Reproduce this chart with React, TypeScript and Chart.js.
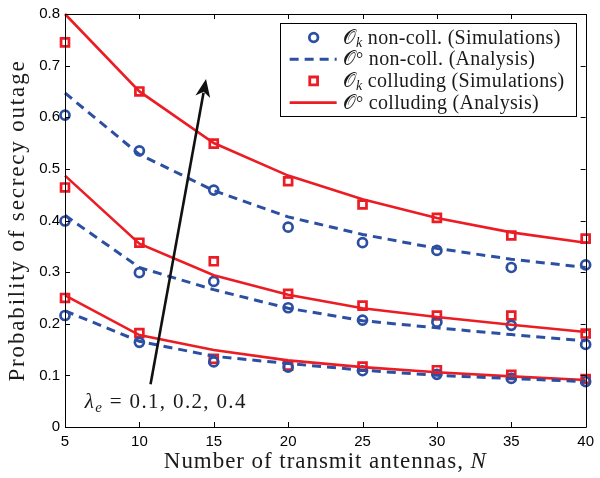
import React, { useEffect, useRef } from "react";
import { Chart, registerables } from "chart.js";

Chart.register(...registerables);

// Number of transmit antennas
const N = [5, 10, 15, 20, 25, 30, 35, 40];

// lambda_e = 0.1
const simNonColl01 = [0.216, 0.164, 0.126, 0.116, 0.109, 0.102, 0.094, 0.088];
const anaNonColl01 = [0.225, 0.166, 0.137, 0.123, 0.110, 0.100, 0.094, 0.088];
const simColl01 = [0.250, 0.182, 0.132, 0.119, 0.117, 0.110, 0.101, 0.093];
const anaColl01 = [0.255, 0.178, 0.149, 0.129, 0.116, 0.106, 0.098, 0.091];

// lambda_e = 0.2
const simNonColl02 = [0.399, 0.299, 0.282, 0.231, 0.207, 0.203, 0.197, 0.160];
const anaNonColl02 = [0.410, 0.309, 0.266, 0.230, 0.206, 0.192, 0.179, 0.167];
const simColl02 = [0.464, 0.357, 0.321, 0.258, 0.235, 0.216, 0.216, 0.181];
const anaColl02 = [0.487, 0.355, 0.294, 0.256, 0.230, 0.213, 0.198, 0.184];

// lambda_e = 0.4
const simNonColl04 = [0.604, 0.535, 0.459, 0.387, 0.357, 0.342, 0.309, 0.314];
const anaNonColl04 = [0.647, 0.528, 0.458, 0.407, 0.373, 0.346, 0.325, 0.309];
const simColl04 = [0.745, 0.650, 0.549, 0.476, 0.431, 0.405, 0.371, 0.365];
const anaColl04 = [0.800, 0.650, 0.550, 0.487, 0.441, 0.405, 0.377, 0.357];

const X_TICKS = [5, 10, 15, 20, 25, 30, 35, 40];
const Y_TICKS = [0, 0.1, 0.2, 0.3, 0.4, 0.5, 0.6, 0.7, 0.8];

const LEGEND_SUFFIX = [
  " non-coll. (Simulations)",
  " non-coll. (Analysis)",
  " colluding (Simulations)",
  " colluding (Analysis)",
];
const X_TITLE = "Number of transmit antennas, ";
const X_TITLE_VAR = "N";
const Y_TITLE = "Probability of secrecy outage";
const LAMBDA_TEXT = " = 0.1, 0.2, 0.4";

// annotation anchor points in data units
const ARROW_FROM = { x: 10.75, y: 0.083 };
const ARROW_TO = { x: 14.48, y: 0.674 };
const LAMBDA_AT = { x: 6.33, y: 0.037 };

const RED = "#EC1C24";
const BLUE = "#2C4FA2";
const TEXT = "#1a1a1a";
const SERIF = "'Liberation Serif', 'DejaVu Serif', serif";
const SANS = "'Liberation Sans', Arial, sans-serif";

type Seg = { t: string; font: string; dy?: number };

function segsWidth(ctx: CanvasRenderingContext2D, segs: Seg[]) {
  let w = 0;
  let n = 0;
  (ctx as any).letterSpacing = "0px";
  for (const s of segs) {
    ctx.font = s.font;
    w += ctx.measureText(s.t).width;
    n += [...s.t].length;
  }
  return { w, n };
}
function drawSegs(ctx: CanvasRenderingContext2D, segs: Seg[], x: number, y: number, spacing: number) {
  let cx = x;
  for (const s of segs) {
    ctx.font = s.font;
    (ctx as any).letterSpacing = "0px";
    const w = ctx.measureText(s.t).width;
    (ctx as any).letterSpacing = `${spacing}px`;
    ctx.fillText(s.t, cx, y + (s.dy || 0));
    cx += w + spacing * [...s.t].length;
  }
  (ctx as any).letterSpacing = "0px";
  return cx - x;
}
function spacingFor(ctx: CanvasRenderingContext2D, segs: Seg[], target: number) {
  const { w, n } = segsWidth(ctx, segs);
  return Math.max(0, (target - w) / n);
}

const decor = {
  id: "decor",
  afterDraw(chart: any) {
    const { ctx, chartArea: a, scales } = chart;
    const xs = scales.x;
    const ys = scales.y;
    ctx.save();
    // box
    ctx.strokeStyle = "#000";
    ctx.lineWidth = 1;
    ctx.beginPath();
    ctx.rect(Math.round(a.left) + 0.5, Math.round(a.top) + 0.5, Math.round(a.right - a.left), Math.round(a.bottom - a.top));
    ctx.stroke();
    // inward ticks
    ctx.beginPath();
    for (const v of X_TICKS) {
      const px = Math.round(xs.getPixelForValue(v)) + 0.5;
      ctx.moveTo(px, a.bottom);
      ctx.lineTo(px, a.bottom - 5);
      ctx.moveTo(px, a.top);
      ctx.lineTo(px, a.top + 5);
    }
    for (const v of Y_TICKS) {
      const py = Math.round(ys.getPixelForValue(v)) + 0.5;
      ctx.moveTo(a.left, py);
      ctx.lineTo(a.left + 5, py);
      ctx.moveTo(a.right, py);
      ctx.lineTo(a.right - 5, py);
    }
    ctx.stroke();

    // arrow
    const x0 = xs.getPixelForValue(ARROW_FROM.x);
    const y0 = ys.getPixelForValue(ARROW_FROM.y);
    const x1 = xs.getPixelForValue(ARROW_TO.x);
    const y1 = ys.getPixelForValue(ARROW_TO.y);
    const ang = Math.atan2(y1 - y0, x1 - x0);
    const hl = 18;
    const hw = 7.5;
    const bx = x1 - hl * Math.cos(ang);
    const by = y1 - hl * Math.sin(ang);
    ctx.strokeStyle = "#111";
    ctx.lineWidth = 2.6;
    ctx.beginPath();
    ctx.moveTo(x0, y0);
    ctx.lineTo(bx + 4 * Math.cos(ang), by + 4 * Math.sin(ang));
    ctx.stroke();
    ctx.fillStyle = "#111";
    ctx.beginPath();
    ctx.moveTo(x1, y1);
    ctx.lineTo(bx - hw * Math.sin(ang), by + hw * Math.cos(ang));
    ctx.lineTo(bx + 5 * Math.cos(ang), by + 5 * Math.sin(ang));
    ctx.lineTo(bx + hw * Math.sin(ang), by - hw * Math.cos(ang));
    ctx.closePath();
    ctx.fill();

    // lambda label
    ctx.fillStyle = TEXT;
    ctx.textBaseline = "alphabetic";
    ctx.textAlign = "left";
    const lx = xs.getPixelForValue(LAMBDA_AT.x);
    const ly = ys.getPixelForValue(LAMBDA_AT.y);
    const lseg: Seg[] = [
      { t: "λ", font: `italic 21px ${SERIF}` },
      { t: "e", font: `italic 15px ${SERIF}`, dy: 4 },
      { t: LAMBDA_TEXT, font: `21px ${SERIF}` },
    ];
    drawSegs(ctx, lseg, lx, ly, spacingFor(ctx, lseg, 162));

    // legend
    const L = a.right - 306;
    const T = a.top + 9;
    const W = 296;
    const H = 93;
    ctx.fillStyle = "#fff";
    ctx.fillRect(L, T, W, H);
    ctx.strokeStyle = "#000";
    ctx.lineWidth = 1;
    ctx.strokeRect(Math.round(L) + 0.5, Math.round(T) + 0.5, W, H);
    let legendSpacing = 0;
    for (let i = 0; i < 4; i++) {
      const cy = T + 14.5 + i * 21.7;
      const color = i < 2 ? BLUE : RED;
      const isSim = i % 2 === 0;
      ctx.strokeStyle = color;
      if (isSim) {
        ctx.lineWidth = 2.8;
        ctx.beginPath();
        if (i === 0) ctx.arc(L + 34, cy, 4.3, 0, Math.PI * 2);
        else ctx.rect(L + 34 - 3.9, cy - 3.9, 7.8, 7.8);
        ctx.stroke();
      } else {
        ctx.lineWidth = i === 1 ? 3 : 2.6;
        ctx.setLineDash(i === 1 ? [9, 6] : []);
        ctx.beginPath();
        ctx.moveTo(L + 10, cy);
        ctx.lineTo(L + 57, cy);
        ctx.stroke();
        ctx.setLineDash([]);
      }
      ctx.fillStyle = TEXT;
      const segs: Seg[] = [
        { t: "𝒪", font: `20px ${SERIF}` },
        isSim
          ? { t: "k", font: `italic 14px ${SERIF}`, dy: 3 }
          : { t: "°", font: `18px ${SERIF}`, dy: 0 },
        { t: LEGEND_SUFFIX[i], font: `20px ${SERIF}` },
      ];
      if (i === 0) legendSpacing = spacingFor(ctx, segs, 218);
      drawSegs(ctx, segs, L + 63, cy + 6, legendSpacing);
    }

    // axis titles
    ctx.fillStyle = TEXT;
    const xt: Seg[] = [
      { t: X_TITLE, font: `23px ${SERIF}` },
      { t: X_TITLE_VAR, font: `italic 23px ${SERIF}` },
    ];
    const xTarget = 323;
    const xsp = spacingFor(ctx, xt, xTarget);
    const xc = (a.left + a.right) / 2;
    drawSegs(ctx, xt, xc - xTarget / 2, a.bottom + 41, xsp);

    ctx.save();
    const yTarget = 322;
    const yt: Seg[] = [{ t: Y_TITLE, font: `23px ${SERIF}` }];
    const ysp = spacingFor(ctx, yt, yTarget);
    ctx.translate(a.left - 41, (a.top + a.bottom) / 2);
    ctx.rotate(-Math.PI / 2);
    drawSegs(ctx, yt, -yTarget / 2, 0, ysp);
    ctx.restore();

    ctx.restore();
  },
};

export default function App() {
  const ref = useRef<HTMLCanvasElement>(null);
  useEffect(() => {
    document.body.style.margin = "0";
    const canvas = ref.current!;
    const pts = (ys: number[]) => N.map((x, i) => ({ x, y: ys[i] }));
    const sim = (label: string, ys: number[], color: string, style: string) => ({
      label,
      data: pts(ys),
      showLine: false,
      borderColor: color,
      backgroundColor: "rgba(0,0,0,0)",
      pointStyle: style,
      pointRadius: style === "circle" ? 4.5 : 5.6,
      pointBorderWidth: 2.7,
      pointBorderColor: color,
      pointBackgroundColor: "rgba(0,0,0,0)",
      borderWidth: 2.7,
    });
    const ana = (label: string, ys: number[], color: string, dashed: boolean) => ({
      label,
      data: pts(ys),
      borderColor: color,
      backgroundColor: color,
      borderWidth: dashed ? 3 : 2.6,
      borderDash: dashed ? [9, 6] : [],
      pointRadius: 0,
      tension: 0,
      fill: false,
    });
    const chart = new Chart(canvas, {
      type: "line",
      data: {
        datasets: [
          ana("Analysis non-coll 0.1", anaNonColl01, BLUE, true),
          ana("Analysis non-coll 0.2", anaNonColl02, BLUE, true),
          ana("Analysis non-coll 0.4", anaNonColl04, BLUE, true),
          ana("Analysis colluding 0.1", anaColl01, RED, false),
          ana("Analysis colluding 0.2", anaColl02, RED, false),
          ana("Analysis colluding 0.4", anaColl04, RED, false),
          sim("Sim non-coll 0.1", simNonColl01, BLUE, "circle"),
          sim("Sim non-coll 0.2", simNonColl02, BLUE, "circle"),
          sim("Sim non-coll 0.4", simNonColl04, BLUE, "circle"),
          sim("Sim colluding 0.1", simColl01, RED, "rect"),
          sim("Sim colluding 0.2", simColl02, RED, "rect"),
          sim("Sim colluding 0.4", simColl04, RED, "rect"),
        ] as any,
      },
      options: {
        responsive: false,
        animation: false,
        clip: false as any,
        layout: { padding: { top: 8, right: 7, left: 0, bottom: 0 } },
        plugins: { legend: { display: false }, tooltip: { enabled: false } },
        scales: {
          x: {
            type: "linear",
            min: 5,
            max: 40,
            afterFit: (s: any) => {
              s.height = 51;
            },
            afterBuildTicks: (s: any) => {
              s.ticks = X_TICKS.map((v) => ({ value: v }));
            },
            ticks: { color: "#000", font: { family: SANS, size: 15 }, padding: 6, maxRotation: 0 },
            grid: { display: true, drawOnChartArea: false, drawTicks: false },
            border: { display: false },
          },
          y: {
            type: "linear",
            min: 0,
            max: 0.8,
            afterFit: (s: any) => {
              s.width = 65;
            },
            afterBuildTicks: (s: any) => {
              s.ticks = Y_TICKS.map((v) => ({ value: v }));
            },
            ticks: { color: "#000", font: { family: SANS, size: 15 }, padding: 5 },
            grid: { display: true, drawOnChartArea: false, drawTicks: false },
            border: { display: false },
          },
        },
      },
      plugins: [decor],
    });
    return () => chart.destroy();
  }, []);
  return <canvas ref={ref} width={600} height={478} style={{ display: "block" }} />;
}
